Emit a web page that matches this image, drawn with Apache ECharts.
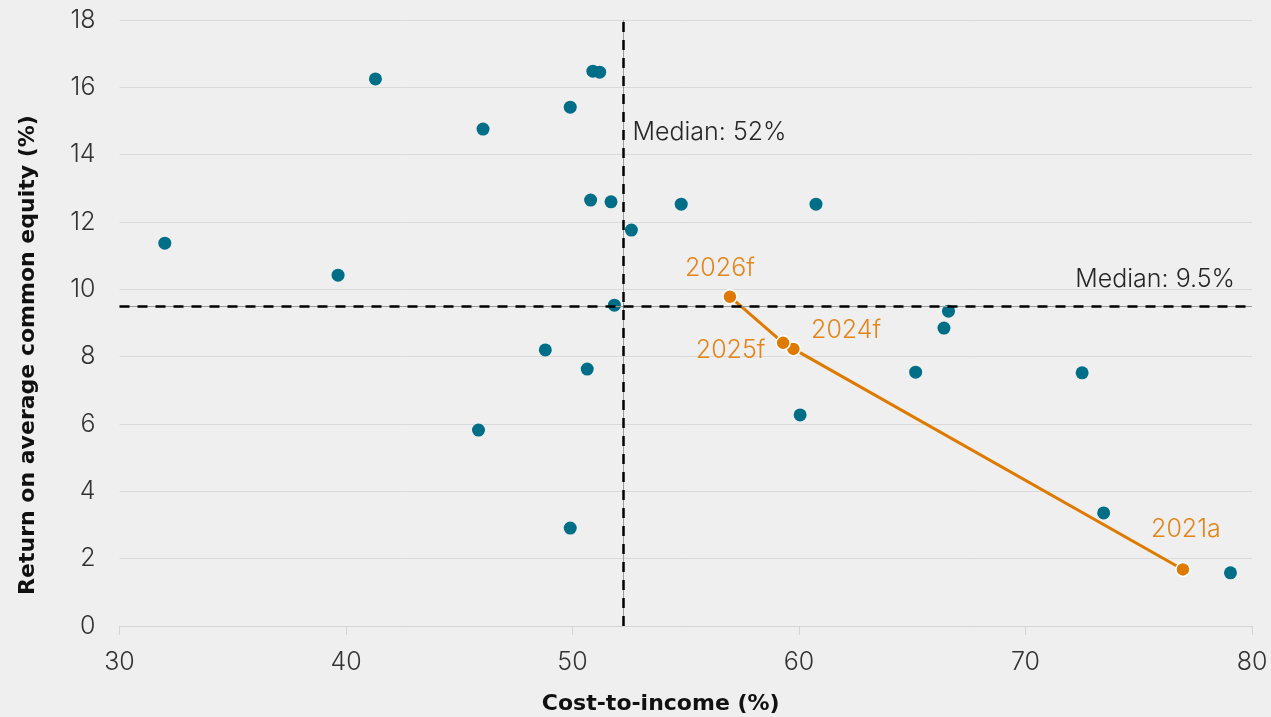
<!DOCTYPE html>
<html>
<head>
<meta charset="utf-8">
<script src="https://cdn.jsdelivr.net/npm/echarts@6/dist/echarts.min.js"></script>
<style>
  html, body { margin: 0; padding: 0; background: #efefef; }
  #chart { width: 1271px; height: 717px; }
</style>
</head>
<body>
<div id="chart"></div>
<script>
// Peer banks: cost-to-income ratio vs return on average common equity
const peerCost = [32.0, 39.65, 41.3, 46.05, 49.9, 50.9, 51.2, 50.8, 51.7, 52.6, 54.8, 60.75,
                  51.85, 48.8, 50.65, 45.85, 49.9, 60.05, 65.15, 66.4, 66.6, 72.5, 73.45, 79.05];
const peerRoae = [11.37, 10.42, 16.25, 14.76, 15.41, 16.48, 16.45, 12.65, 12.6, 11.76, 12.53, 12.53,
                  9.53, 8.2, 7.63, 5.82, 2.91, 6.27, 7.54, 8.85, 9.35, 7.52, 3.36, 1.58];

// Highlighted bank: actual and forecast path
const pathYears = ['2021a', '2024f', '2025f', '2026f'];
const pathCost = [76.95, 59.75, 59.3, 56.95];
const pathRoae = [1.68, 8.23, 8.41, 9.78];

// Peer medians
const medianCost = 52.25;
const medianRoae = 9.5;
const medianCostLabel = 'Median: 52%';
const medianRoaeLabel = 'Median: 9.5%';

// Axis ranges and titles
const xMin = 30, xMax = 80, xStep = 10;
const yMin = 0, yMax = 18, yStep = 2;
const xTitle = 'Cost-to-income (%)';
const yTitle = 'Return on average common equity (%)';

const TEAL = '#006e87';
const ORANGE = '#df7a00';
const ORANGE_TEXT = '#e2851a';
const LIGHT = 'Inter';
const BOLD = 'DejaVu Sans';

// label placement around each point of the path
const yearLabelLayout = {
  '2021a': { position: 'top', distance: 20, offset: [3, 0] },
  '2024f': { position: 'right', distance: 10, offset: [0, -18] },
  '2025f': { position: 'left', distance: 10, offset: [0, 8] },
  '2026f': { position: 'top', distance: 8, offset: [-10, 0] }
};

const textLight = { fontFamily: LIGHT, fontWeight: 300, fontSize: 25 };

const chart = echarts.init(document.getElementById('chart'));

const peerData = peerCost.map((c, i) => [c, peerRoae[i]]);
const pathData = pathYears.map((yr, i) => ({
  value: [pathCost[i], pathRoae[i]],
  name: yr,
  label: Object.assign({ show: true, formatter: yr, color: ORANGE_TEXT }, textLight, yearLabelLayout[yr])
}));

const medianCaption = (value, text, position, distance) => ({
  value: value,
  label: Object.assign({ show: true, position: position, distance: distance, formatter: text, color: '#262626' }, textLight)
});

const dashStyle = { color: '#000', width: 2.5, type: [10, 8] };
const thinStyle = { color: '#9a9a9a', width: 1, type: 'solid' };

chart.setOption({
  backgroundColor: '#efefef',
  animation: false,
  grid: { left: 119.5, right: 19, top: 20, bottom: 91, outerBoundsMode: 'none', containLabel: false },
  xAxis: {
    type: 'value',
    min: xMin, max: xMax, interval: xStep,
    name: xTitle,
    nameLocation: 'middle',
    nameGap: 67,
    nameTextStyle: { fontFamily: BOLD, fontWeight: 700, fontSize: 22, color: '#111', padding: [0, 50, 0, 0] },
    axisLine: { show: true, lineStyle: { color: '#d4d4d4', width: 1 } },
    axisTick: { show: true, length: 9, lineStyle: { color: '#d4d4d4' } },
    axisLabel: Object.assign({ margin: 24, color: '#333' }, textLight),
    splitLine: { show: false }
  },
  yAxis: {
    type: 'value',
    min: yMin, max: yMax, interval: yStep,
    name: yTitle,
    nameLocation: 'middle',
    nameGap: 80,
    nameRotate: 90,
    nameTextStyle: { fontFamily: BOLD, fontWeight: 700, fontSize: 22, color: '#111', padding: [0, 64, 0, 0] },
    axisLine: { show: false },
    axisTick: { show: false },
    axisLabel: Object.assign({ margin: 24, color: '#333' }, textLight),
    splitLine: { show: true, lineStyle: { color: '#dadada', width: 1 } }
  },
  series: [
    {
      // thin guide under the dashed medians
      type: 'scatter',
      data: [],
      silent: true,
      markLine: {
        symbol: 'none', silent: true, label: { show: false },
        lineStyle: thinStyle,
        data: [{ xAxis: medianCost }, { yAxis: medianRoae }]
      }
    },
    {
      type: 'scatter',
      data: [],
      silent: true,
      markLine: {
        symbol: 'none', silent: true, label: { show: false },
        lineStyle: dashStyle,
        data: [{ xAxis: medianCost }, { yAxis: medianRoae }]
      }
    },
    {
      name: 'Peers',
      type: 'scatter',
      symbol: 'circle',
      symbolSize: 13,
      itemStyle: { color: TEAL, opacity: 1 },
      data: peerData,
      z: 3
    },
    {
      name: 'Path',
      type: 'line',
      symbol: 'circle',
      symbolSize: 14,
      showAllSymbol: true,
      lineStyle: { color: ORANGE, width: 3 },
      itemStyle: { color: ORANGE, borderColor: '#fff', borderWidth: 1.5 },
      data: pathData,
      z: 4
    },
    {
      // median captions
      type: 'scatter',
      symbolSize: 0,
      silent: true,
      itemStyle: { opacity: 1 },
      data: [
        medianCaption([medianCost, 14.65], medianCostLabel, 'right', 9),
        medianCaption([xMax, 10.28], medianRoaeLabel, 'left', 17)
      ],
      z: 5
    }
  ]
});
</script>
</body>
</html>
